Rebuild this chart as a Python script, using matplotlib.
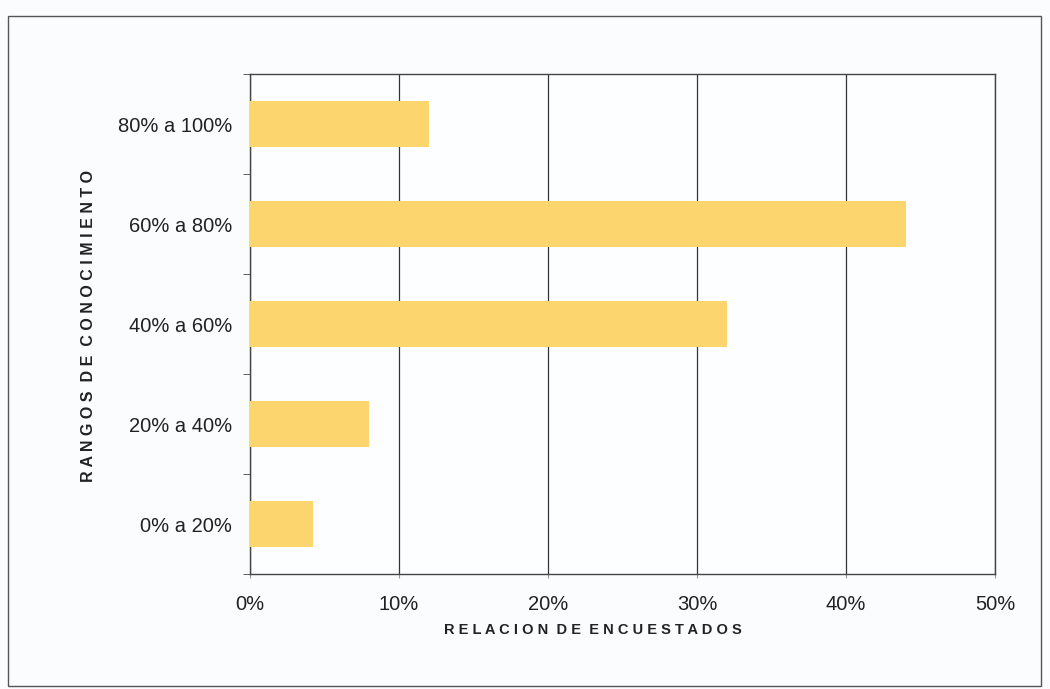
import matplotlib
matplotlib.use("Agg")
import matplotlib.pyplot as plt
from matplotlib.patches import Rectangle

# ================== DATOS ==================
rangos = ["0% a 20%", "20% a 40%", "40% a 60%", "60% a 80%", "80% a 100%"]
relacion = [4.2, 8, 32, 44, 12]
x_ticks = [0, 10, 20, 30, 40, 50]

plt.rcParams["font.family"] = ["Liberation Sans", "DejaVu Sans"]


def espaciar(texto):
    # separa letras con espacios (como el original)
    return "   ".join(" ".join(p) for p in texto.split(" "))


fig = plt.figure(figsize=(10.5, 6.89), dpi=100, facecolor="#FBFCFE")
ax = fig.add_axes([250 / 1050, 1 - 574 / 689, 745 / 1050, 500 / 689])
ax.set_facecolor("#FDFEFF")

# marco exterior
fig.patches.append(Rectangle((8 / 1050, 1 - 686 / 689), 1033 / 1050, 670 / 689,
                             transform=fig.transFigure, fill=False,
                             edgecolor="#555555", linewidth=1))

y = list(range(len(rangos)))
ax.barh(y, relacion, height=0.46, color="#FDD56E", zorder=3)

ax.set_xlim(0, 50)
ax.set_ylim(-0.5, len(rangos) - 0.5)
ax.set_xticks(x_ticks)
ax.set_xticklabels([f"{v}%" for v in x_ticks], fontsize=14.5, color="#222222")
ax.set_yticks(y)
ax.set_yticklabels(rangos, fontsize=14.5, color="#222222")
ax.set_yticks([i - 0.5 for i in range(len(rangos) + 1)], minor=True)

ax.tick_params(axis="y", which="major", length=0, pad=13)
ax.tick_params(axis="y", which="minor", length=5, color="#444444", direction="out")
ax.tick_params(axis="x", which="major", length=3, color="#999999", pad=12)

ax.grid(axis="x", color="#333333", linewidth=0.9, zorder=0)
for s in ax.spines.values():
    s.set_color("#444444")
    s.set_linewidth(1)

fig.text(593 / 1050, 1 - 630 / 689, espaciar("RELACION DE ENCUESTADOS").replace("   ", "  "),
         fontsize=10.5, fontweight="bold", color="#222222", ha="center", va="center")
fig.text(89 / 1050, 1 - 326 / 689, espaciar("RANGOS DE CONOCIMIENTO").replace("   ", "  "),
         fontsize=11.5, fontweight="bold", color="#222222", ha="center", va="center",
         rotation=90)

fig.savefig("out.png", dpi=100, facecolor=fig.get_facecolor())
